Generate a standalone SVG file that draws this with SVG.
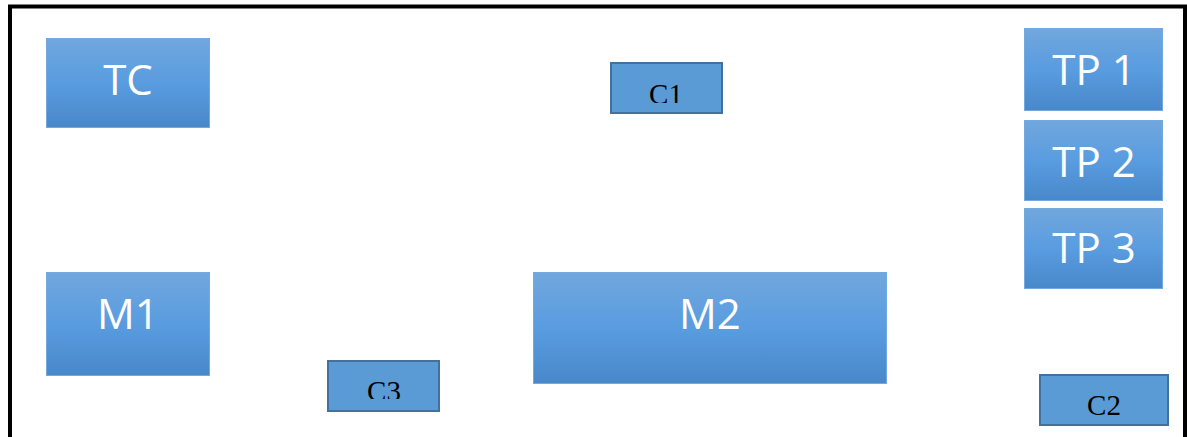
<svg xmlns="http://www.w3.org/2000/svg" width="1187" height="437" viewBox="0 0 1187 437">
<style>
.big rect{fill:url(#g);stroke:#73a9de;stroke-width:1}
.big text{font-family:"Open Sans","DejaVu Sans",sans-serif;font-size:42px;fill:#fff;text-anchor:middle}
.small rect{fill:#5b9bd5;stroke:#41719c;stroke-width:2}
.small text{font-family:"Liberation Serif","Times New Roman",serif;font-size:29px;fill:#000;text-anchor:middle}
</style>
<defs>
<linearGradient id="g" x1="0" y1="0" x2="0" y2="1">
<stop offset="0" stop-color="#71a7dd"/>
<stop offset="0.5" stop-color="#599ce0"/>
<stop offset="1" stop-color="#4888ca"/>
</linearGradient>
<clipPath id="cc1"><rect x="611" y="63" width="111" height="40"/></clipPath>
<clipPath id="cc3"><rect x="328" y="361" width="111" height="38"/></clipPath>
</defs>
<rect x="0" y="0" width="1187" height="437" fill="#fff"/>
<rect x="10" y="6.5" width="1175" height="500" fill="none" stroke="#000" stroke-width="4"/>
<g id="connectors"></g>
<g id="TC" class="big"><rect x="46.5" y="38.5" width="163" height="89"/><text x="128" y="95">TC</text></g>
<g id="M1" class="big"><rect x="46.5" y="272.5" width="163" height="103"/><text x="128" y="329">M1</text></g>
<g id="M2" class="big"><rect x="533.5" y="272.5" width="353" height="111"/><text x="710" y="329">M2</text></g>
<g id="TP1" class="big"><rect x="1024.5" y="28.5" width="138" height="82"/><text x="1094" y="85">TP 1</text></g>
<g id="TP2" class="big"><rect x="1024.5" y="120.5" width="138" height="80"/><text x="1094" y="177">TP 2</text></g>
<g id="TP3" class="big"><rect x="1024.5" y="208.5" width="138" height="80"/><text x="1094" y="263">TP 3</text></g>
<g id="C1" class="small"><rect x="611" y="63" width="111" height="50"/><text x="666" y="104" clip-path="url(#cc1)">C1</text></g>
<g id="C3" class="small"><rect x="328" y="361" width="111" height="50"/><text x="384" y="401" clip-path="url(#cc3)">C3</text></g>
<g id="C2" class="small"><rect x="1040" y="375" width="128" height="50"/><text x="1104" y="415">C2</text></g>
</svg>
